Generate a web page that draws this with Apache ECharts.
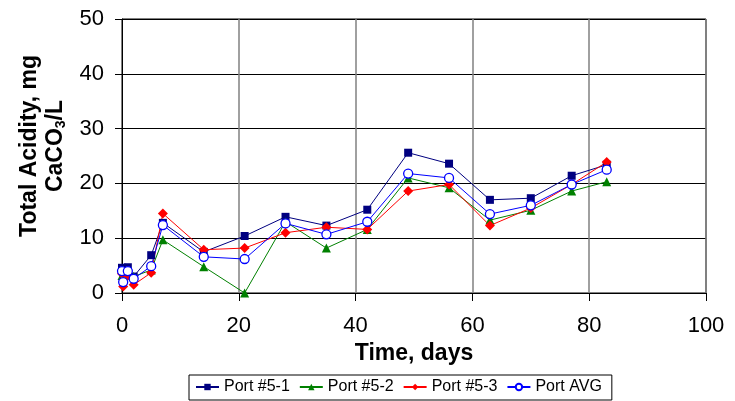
<!DOCTYPE html>
<html>
<head>
<meta charset="utf-8">
<script src="https://cdn.jsdelivr.net/npm/echarts@6/dist/echarts.min.js"></script>
<style>
html,body{margin:0;padding:0;background:#fff;}
#c{width:735px;height:401px;}
</style>
</head>
<body>
<div id="c"></div>
<script>
const days = [0, 0.2, 1, 2, 5, 7, 14, 21, 28, 35, 42, 49, 56, 63, 70, 77, 83];
const port51 = [4.6, 2.3, 4.7, 3.0, 6.9, 12.8, 7.5, 10.4, 13.9, 12.3, 15.2, 25.6, 23.6, 17.0, 17.3, 21.4, 23.4];
const port52 = [3.2, 3.0, 3.3, 3.0, 4.2, 9.7, 4.8, 0.0, 13.0, 8.2, 11.6, 21.0, 19.2, 13.3, 15.1, 18.6, 20.3];
const port53 = [3.5, 1.2, 3.2, 1.5, 3.7, 14.5, 7.9, 8.2, 11.0, 12.0, 11.6, 18.6, 19.8, 12.3, 15.5, 19.8, 23.9];
const portAvg = [4.0, 2.0, 4.0, 2.6, 4.9, 12.4, 6.6, 6.2, 12.7, 10.7, 13.0, 21.8, 21.0, 14.4, 16.0, 19.8, 22.5];
const seriesNames = ['Port #5-1', 'Port #5-2', 'Port #5-3', 'Port AVG'];

const pairs = arr => days.map((d, i) => [d, arr[i]]);
const FONT = '"Liberation Sans", Arial, sans-serif';

const chart = echarts.init(document.getElementById('c'), null, {renderer: 'canvas'});
chart.setOption({
  animation: false,
  backgroundColor: '#fff',
  textStyle: {fontFamily: FONT},
  grid: {left: 122, right: 29, top: 19, bottom: 108, show: true, borderColor: '#000', borderWidth: 1},
  legend: {
    data: seriesNames,
    left: 189, top: 375,
    orient: 'horizontal',
    itemWidth: 23, itemHeight: 8, itemGap: 9,
    padding: [4, 10, 5, 6],
    borderColor: '#000', borderWidth: 1,
    textStyle: {fontFamily: FONT, fontSize: 16, color: '#000'}
  },
  xAxis: {
    type: 'value', min: 0, max: 100, interval: 20,
    name: 'Time, days', nameLocation: 'middle', nameGap: 49,
    nameTextStyle: {fontFamily: FONT, fontSize: 23, fontWeight: 'bold', color: '#000'},
    axisLine: {show: true, lineStyle: {color: '#000', width: 1}},
    axisTick: {show: true, length: 8, lineStyle: {color: '#000'}},
    axisLabel: {margin: 22, fontFamily: FONT, fontSize: 22, color: '#000'},
    splitLine: {show: true, lineStyle: {color: '#808080', width: 1.5}}
  },
  yAxis: {
    type: 'value', min: 0, max: 50, interval: 10,
    name: '{a|Total Acidity, mg}\n{a|CaCO}{s|3}{a|/L}',
    nameLocation: 'middle', nameRotate: 90, nameGap: 50,
    nameTextStyle: {
      fontFamily: FONT, fontSize: 23, fontWeight: 'bold', color: '#000', align: 'center',
      padding: [0, 0, 0, 20],
      rich: {
        a: {fontFamily: FONT, fontSize: 23, fontWeight: 'bold', color: '#000', lineHeight: 26},
        s: {fontFamily: FONT, fontSize: 14, fontWeight: 'bold', color: '#000', lineHeight: 14, verticalAlign: 'bottom'}
      }
    },
    axisLine: {show: true, lineStyle: {color: '#000', width: 1}},
    axisTick: {show: true, length: 7, lineStyle: {color: '#000'}},
    axisLabel: {margin: 18, fontFamily: FONT, fontSize: 22, color: '#000'},
    splitLine: {show: true, lineStyle: {color: '#000', width: 1}}
  },
  series: [
    {name: seriesNames[0], type: 'line', data: pairs(port51), symbol: 'rect', symbolSize: 8,
     itemStyle: {color: '#000080'}, lineStyle: {color: '#000080', width: 1}},
    {name: seriesNames[1], type: 'line', data: pairs(port52), symbol: 'triangle', symbolSize: 9,
     itemStyle: {color: '#008000'}, lineStyle: {color: '#008000', width: 1}},
    {name: seriesNames[2], type: 'line', data: pairs(port53), symbol: 'diamond', symbolSize: 10,
     itemStyle: {color: '#FF0000'}, lineStyle: {color: '#FF0000', width: 1}},
    {name: seriesNames[3], type: 'line', data: pairs(portAvg), symbol: 'circle', symbolSize: 9,
     itemStyle: {color: '#fff', borderColor: '#0000FF', borderWidth: 1.3}, lineStyle: {color: '#0000FF', width: 1}}
  ]
});
</script>
</body>
</html>
